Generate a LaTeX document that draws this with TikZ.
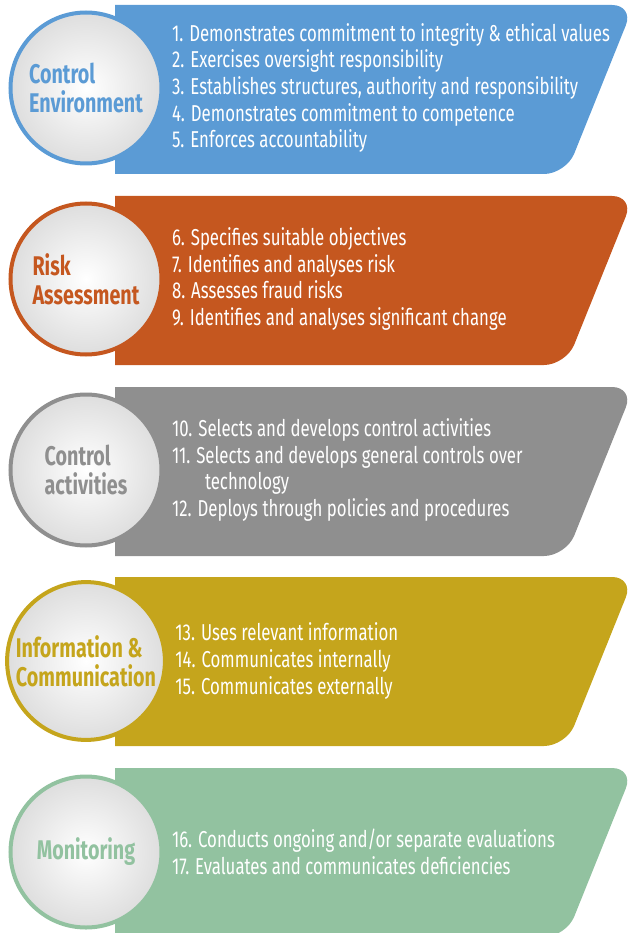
\documentclass[tikz,border=0pt]{standalone}
\usepackage{fontspec}
\setmainfont{Fira Sans}[FakeStretch=0.73]
\usepackage{tikz}
\usetikzlibrary{positioning}
\usepackage{xcolor}
\definecolor{ceblue}{RGB}{91,155,213}
\definecolor{raorange}{RGB}{197,87,31}
\definecolor{cagray}{RGB}{143,143,143}
\definecolor{icgold}{RGB}{197,165,28}
\definecolor{mogreen}{RGB}{146,194,160}

\begin{document}
\begin{tikzpicture}[x=1pt,y=-1pt,
  bubble/.style={circle,minimum size=151pt,line width=4pt,draw=#1,inner color=white,outer color=black!13,align=left,text=#1,font=\bfseries\fontsize{27}{29}\selectfont},
  items/.style={right=5pt of #1,align=left,text=white,font=\fontsize{23}{26.7}\selectfont}]
\useasboundingbox (0,0) rectangle (629,933);
\foreach \t/\c in {5/ceblue,196/raorange,387/cagray,577/icgold,768/mogreen}
  \fill[\c] (115,\t) -- (400,\t) [rounded corners=22pt] -- (634,\t) -- (566,\t+169) -- (400,\t+169) [sharp corners] -- (115,\t+169) -- cycle;
\node[bubble=ceblue] (ce) at (86,88) {Control\\Environment};
\node[bubble=raorange] (ra) at (86,279) {Risk\\Assessment};
\node[bubble=cagray] (ca) at (86,470) {Control\\activities};
\node[bubble=icgold] (ic) at (86,661) {Information \&\\Communication};
\node[bubble=mogreen] (mo) at (86,852) {Monitoring};
\node[items=ce] (celist) {1. Demonstrates commitment to integrity \& ethical values\\2. Exercises oversight responsibility\\3. Establishes structures, authority and responsibility\\4. Demonstrates commitment to competence\\5. Enforces accountability};
\node[items=ra] (ralist) {6. Specifies suitable objectives\\7. Identifies and analyses risk\\8. Assesses fraud risks\\9. Identifies and analyses significant change};
\node[items=ca] (calist) {10. Selects and develops control activities\\11. Selects and develops general controls over\\\hspace*{33pt}technology\\12. Deploys through policies and procedures};
\node[items=ic] (iclist) {13. Uses relevant information\\14. Communicates internally\\15. Communicates externally};
\node[items=mo] (molist) {16. Conducts ongoing and/or separate evaluations\\17. Evaluates and communicates deficiencies};
\end{tikzpicture}
\end{document}
